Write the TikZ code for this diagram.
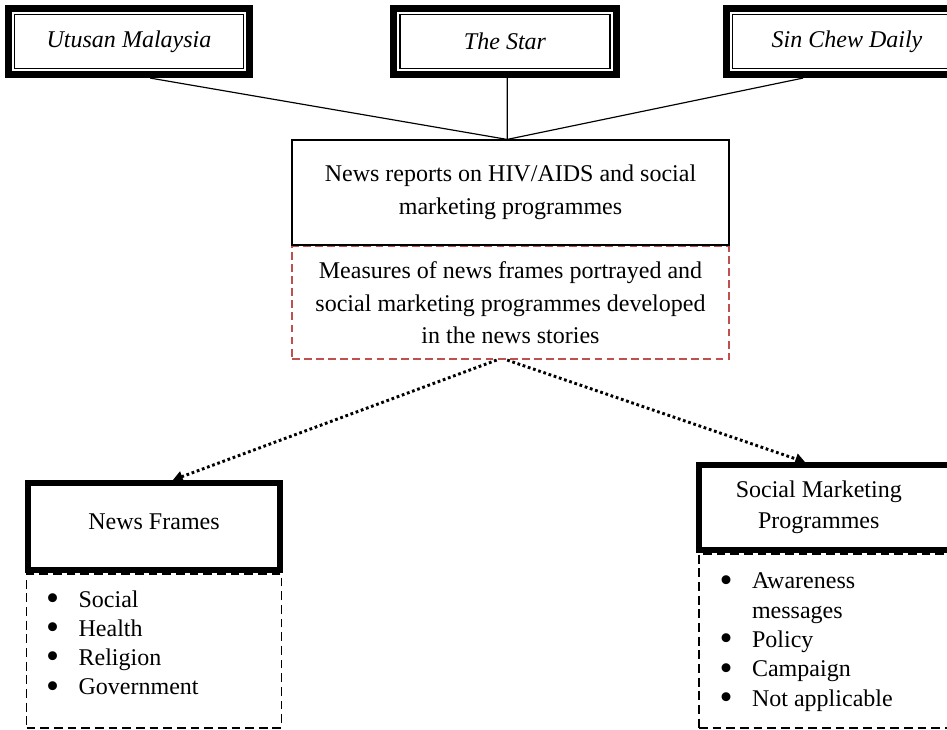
\documentclass[tikz,border=0pt]{standalone}
\usepackage{fontspec}
\setmainfont{Liberation Serif}
\usetikzlibrary{arrows.meta}
\usetikzlibrary{positioning}
\definecolor{framered}{RGB}{192,80,77}
\newcommand{\itembullet}{\smash{\raisebox{-1.7pt}{\scalebox{1.55}{\textbullet}}}}
\tikzset{>={Triangle[length=5pt,width=5.5pt]}}
\tikzset{
    paperout/.style={draw, line width=3.6pt, minimum width=#1, minimum height=1.19cm, inner sep=0pt},
    paperin/.style={draw, line width=0.9pt, minimum width=#1, minimum height=0.97cm, font=\fontsize{12.3}{14}\selectfont\itshape},
    link/.style={line width=0.6pt},
    reportbox/.style={draw, line width=0.6pt, minimum width=7.87cm, minimum height=1.89cm, align=center, font=\fontsize{12.3}{17}\selectfont},
    measurebox/.style={draw=framered, line width=0.9pt, dash pattern=on 4pt off 2.2pt, minimum width=7.87cm, minimum height=2.03cm, align=center, font=\fontsize{12.3}{16.6}\selectfont},
    framebox/.style={draw, line width=3pt, minimum width=#1, align=center, font=\fontsize{12.3}{16}\selectfont},
    listbox/.style={draw, line width=0.9pt, dash pattern=on 4.5pt off 2.5pt, minimum width=#1},
    itemlist/.style={inner sep=0pt, font=\fontsize{12.3}{15}\selectfont},
    arrowdots/.style={->, line width=1.5pt, dash pattern=on 1.4pt off 1.4pt},
}

\begin{document}
\begin{tikzpicture}[x=0.018cm, y=-0.018cm]
	\useasboundingbox (0,0) rectangle (947,729);
	% the three newspapers
	\node[paperout=4.34cm] (utusan) at (129,41.5) {};
	\node[paperin=4.12cm] (utusanin) at (utusan) {Utusan Malaysia};
	\node[paperout=4.01cm] (star) at (505,41.5) {};
	\node[paperin=3.79cm] (starin) at (star) {The Star};
	\node[paperout=4.34cm] (sinchew) at (847,41.5) {};
	\node[paperin=4.12cm] (sinchewin) at (sinchew) {Sin Chew Daily};
	% news reports
	\node[reportbox] (reports) at (510.5,192.5) {News reports on HIV/AIDS and social\\marketing programmes};
	\node[measurebox, below=0pt of reports] (measures) {Measures of news frames portrayed and\\social marketing programmes developed\\in the news stories};
	\coordinate (hub) at ([xshift=-0.06cm]reports.north);
	\draw[link] ([xshift=0.38cm]utusan.south) -- (hub);
	\draw[link] ([xshift=0.04cm]star.south) -- (hub);
	\draw[link] ([xshift=-0.79cm]sinchew.south) -- (hub);
	% news frames
	\node[framebox=4.54cm, minimum height=1.57cm] (frames) at (154,526.5) {\raisebox{5pt}{News Frames}};
	\node[listbox=4.59cm, minimum height=2.77cm, below=0pt of frames] (framelist) {};
	\node[itemlist, anchor=base west] (frameitems) at ([shift={(20,34)}]framelist.north west)
		{\begin{tabular}[t]{@{}l@{\hspace{10pt}}l@{}}
		\itembullet & Social\\
		\itembullet & Health\\
		\itembullet & Religion\\
		\itembullet & Government
		\end{tabular}};
	% social marketing programmes
	\node[framebox=4.7cm, minimum height=1.53cm] (smp) at (829.5,507.5) {Social Marketing\hspace*{11pt}\\Programmes\hspace*{11pt}};
	\node[listbox=4.7cm, minimum height=3.13cm, below=0pt of smp] (smplist) {};
	\node[itemlist, anchor=base west] (smpitems) at ([shift={(21,36)}]smplist.north west)
		{\begin{tabular}[t]{@{}l@{\hspace{10pt}}l@{}}
		\itembullet & Awareness\\
		 & messages\\
		\itembullet & Policy\\
		\itembullet & Campaign\\
		\itembullet & Not applicable
		\end{tabular}};
	% dotted arrows
	\draw[arrowdots] ([xshift=-0.25cm]measures.south) -- ([xshift=0.34cm]frames.north);
	\draw[arrowdots] ([xshift=-0.06cm]measures.south) -- ([xshift=-0.44cm]smp.north);
\end{tikzpicture}
\end{document}
